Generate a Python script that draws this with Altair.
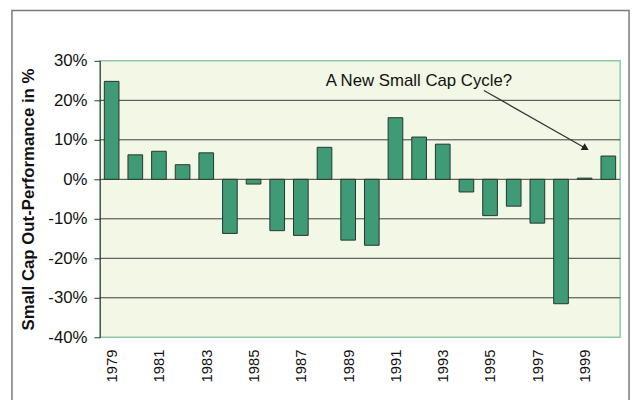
import altair as alt
import pandas as pd

# ---- data ----
years = list(range(1979, 2001))
values = [24.8, 6.2, 7.1, 3.7, 6.7, -13.7, -1.2, -13.0, -14.2, 8.1, -15.4,
          -16.7, 15.6, 10.7, 8.9, -3.2, -9.2, -6.8, -11.1, -31.5, 0.3, 5.9]
tick_values = [-40, -30, -20, -10, 0, 10, 20, 30]
grid_values = [-30, -20, -10, 0, 10, 20]
label_years = [1979, 1981, 1983, 1985, 1987, 1989, 1991, 1993, 1995, 1997, 1999]
note_text = ["A New Small Cap Cycle?"]
note_x = [1988.05]
note_y = [23.75]
arrow_x = [1994.74]
arrow_y = [22.5]
arrow_x2 = [1999.0]
arrow_y2 = [8.0]

FONT = "Liberation Sans"
Y_TITLE = "Small Cap Out-Performance in %"

bars_df = pd.DataFrame({"year": years, "value": values})
grid_df = pd.DataFrame({"g": grid_values})
note_df = pd.DataFrame({"text": note_text, "x": note_x, "y": note_y})
arrow_df = pd.DataFrame({"x": arrow_x, "y": arrow_y, "x2": arrow_x2, "y2": arrow_y2})

xscale = alt.Scale(domain=[1978.5, 2000.5], nice=False, zero=False)
yscale = alt.Scale(domain=[-40, 30], nice=False)

xaxis = alt.Axis(values=label_years, format="d", labelAngle=-90,
                 ticks=False, domain=False, grid=False, labelPadding=12,
                 labelOverlap=False,
                 labelFont=FONT, labelFontSize=15, labelColor="#111")
yaxis = alt.Axis(values=tick_values, labelExpr="datum.value + '%'",
                 grid=False, tickSize=6, tickColor="#333",
                 domainColor="#333", labelPadding=7,
                 labelOverlap=False, labelBound=False,
                 labelFont=FONT, labelFontSize=17, labelColor="#111",
                 titleFont=FONT, titleFontSize=17, titleFontWeight="bold",
                 titleColor="#111", titlePadding=10)


def X(field):
    return alt.X(field, scale=xscale, axis=xaxis, title="")


def Y(field):
    return alt.Y(field, scale=yscale, axis=yaxis, title=Y_TITLE)


grid = alt.Chart(grid_df).mark_rule(color="#3a3a3a", strokeWidth=1).encode(
    y=Y("g:Q")
)

bars = alt.Chart(bars_df).transform_calculate(
    x0="datum.year - 0.31", x1="datum.year + 0.31"
).mark_bar(color="#3f9a76", stroke="#26352c", strokeWidth=1).encode(
    x=X("x0:Q"),
    x2="x1:Q",
    y=Y("value:Q"),
    y2=alt.datum(0),
)

arrow = alt.Chart(arrow_df).mark_rule(color="#333", strokeWidth=1.3).encode(
    x=X("x:Q"),
    y=Y("y:Q"),
    x2="x2:Q",
    y2="y2:Q",
)

head = alt.Chart(arrow_df).mark_point(
    shape="triangle", filled=True, angle=120, size=65, color="#222", opacity=1
).encode(
    x=X("x2:Q"),
    y=Y("y2:Q"),
)

note = alt.Chart(note_df).mark_text(
    align="left", baseline="alphabetic", font=FONT, fontSize=17, color="#111"
).encode(
    x=X("x:Q"),
    y=Y("y:Q"),
    text="text:N",
)

frame = alt.Chart(pd.DataFrame({"k": [0]})).mark_rect(
    fillOpacity=0, stroke="#7a7a7a", strokeWidth=1.5
).encode(
    x=alt.value(-89), x2=alt.value(536), y=alt.value(-51), y2=alt.value(345)
)

chart = alt.layer(grid, bars, arrow, head, note, frame).properties(
    width=527,
    height=280,
    autosize=alt.AutoSizeParams(type="none"),
    padding={"left": 93, "top": 51, "right": 11, "bottom": 61},
    background="white",
).configure_view(
    stroke="#8fc9a8", strokeWidth=1.5, fill="#f3f8e6"
).configure_axis(grid=False)

chart.save("out.html", embed_options={"renderer": "svg", "actions": False})
